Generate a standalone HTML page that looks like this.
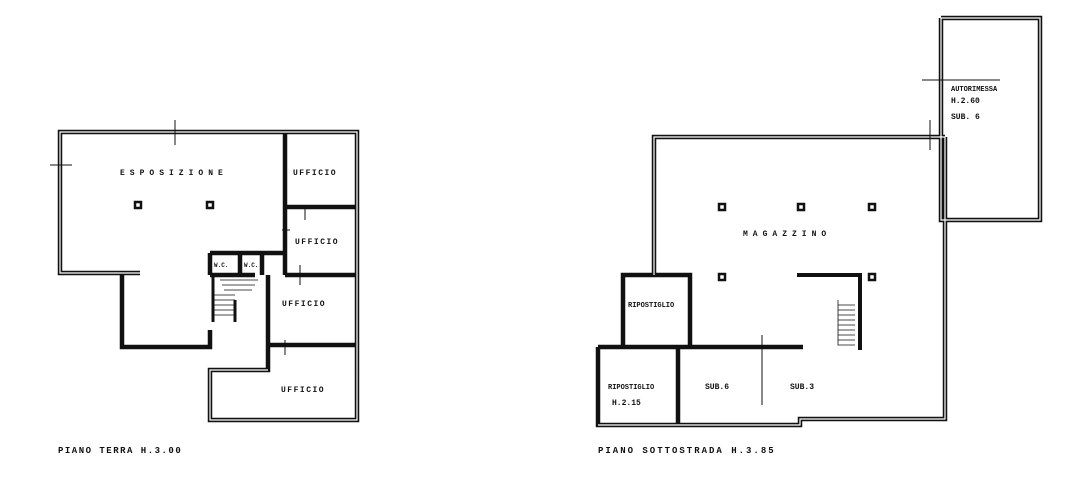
<!DOCTYPE html>
<html><head><meta charset="utf-8"><style>
html,body{margin:0;padding:0;background:#fff;width:1065px;height:489px;overflow:hidden}
svg{display:block}
text{font-family:"Liberation Mono",monospace;fill:#111;font-weight:bold}
</style></head><body>
<svg width="1065" height="489" viewBox="0 0 1065 489">
<g fill="none" stroke="#111" stroke-width="4.5" stroke-linejoin="miter">
<!-- LEFT PLAN -->
<path d="M140 273 H60 V132 H357 V420 H210 V370 H268 V275"/>
<path d="M122 273 V347 H210 V330"/>
<path d="M285 132 V275"/>
<path d="M285 207 H355 M285 275 H355 M268 345 H355"/>
<path d="M210 253 V275 M210 253 H285 M210 275 H255 M240 253 V275 M262 253 V275"/>
<path d="M213 277 V322 M235 300 V322" stroke-width="3"/>
<!-- RIGHT PLAN -->
<path d="M945 137 H654 V275 H623 V347 M654 275 H690 V347"/>
<path d="M598 347 H803 M598 347 V425 H678 V347 M678 425 H800 V419 H945 V137"/>
<path d="M941 18 H1040 V220 H941 V18" />
<path d="M797 275 H860 V350" stroke-width="4"/>
</g>
<g fill="none" stroke="#fff" stroke-width="1.2">
<path d="M140 273 H60 V132 H357 V420 H210 V370 H268"/>
<path d="M945 137 H654 V275 M598 425 H678 M678 425 H800 V419 H945 V137"/>
<path d="M941 18 H1040 V220 H941 V18"/>
</g>
<g stroke="#111" stroke-width="1" fill="none">
<path d="M175 120 V145 M50 165 H72 M305 205 V220 M290 230 H282 M300 265 V285 M285 340 V355 M922 80 H1000 M930 120 V150 M762 335 V405"/>
<path d="M213 300 H235 M213 305 H235 M213 310 H235 M213 315 H235 M213 295 H235 M220 280 H258 M222 285 H255 M224 290 H252" stroke-width="0.8"/>
<path d="M838 300 V345 H855 M838 305 H855 M838 310 H855 M838 315 H855 M838 320 H855 M838 325 H855 M838 330 H855 M838 335 H855 M838 340 H855" stroke-width="0.8"/>
</g>
<g fill="#fff" stroke="#111" stroke-width="2.5">
<rect x="135" y="202" width="6" height="6"/><rect x="207" y="202" width="6" height="6"/>
<rect x="719" y="204" width="6" height="6"/><rect x="798" y="204" width="6" height="6"/><rect x="869" y="204" width="6" height="6"/>
<rect x="719" y="274" width="6" height="6"/><rect x="869" y="274" width="6" height="6"/>
</g>
<g font-size="8">
<text x="120" y="175" letter-spacing="5">ESPOSIZIONE</text>
<text x="293" y="175" letter-spacing="1.5">UFFICIO</text>
<text x="295" y="244" letter-spacing="1.5">UFFICIO</text>
<text x="282" y="306" letter-spacing="1.5">UFFICIO</text>
<text x="281" y="392" letter-spacing="1.5">UFFICIO</text>
<text x="214" y="267" font-size="6">W.C.</text>
<text x="244" y="267" font-size="6">W.C.</text>
<text x="743" y="236" letter-spacing="5">MAGAZZINO</text>
<text x="628" y="307" font-size="7">RIPOSTIGLIO</text>
<text x="608" y="389" font-size="7">RIPOSTIGLIO</text>
<text x="612" y="405">H.2.15</text>
<text x="705" y="389">SUB.6</text>
<text x="790" y="389">SUB.3</text>
<text x="951" y="91" font-size="7">AUTORIMESSA</text>
<text x="951" y="103">H.2.60</text>
<text x="951" y="119">SUB. 6</text>
<text x="58" y="453" font-size="9" letter-spacing="1.5">PIANO TERRA  H.3.00</text>
<text x="598" y="453" font-size="9" letter-spacing="2">PIANO SOTTOSTRADA  H.3.85</text>
</g>
</svg>
</body></html>
